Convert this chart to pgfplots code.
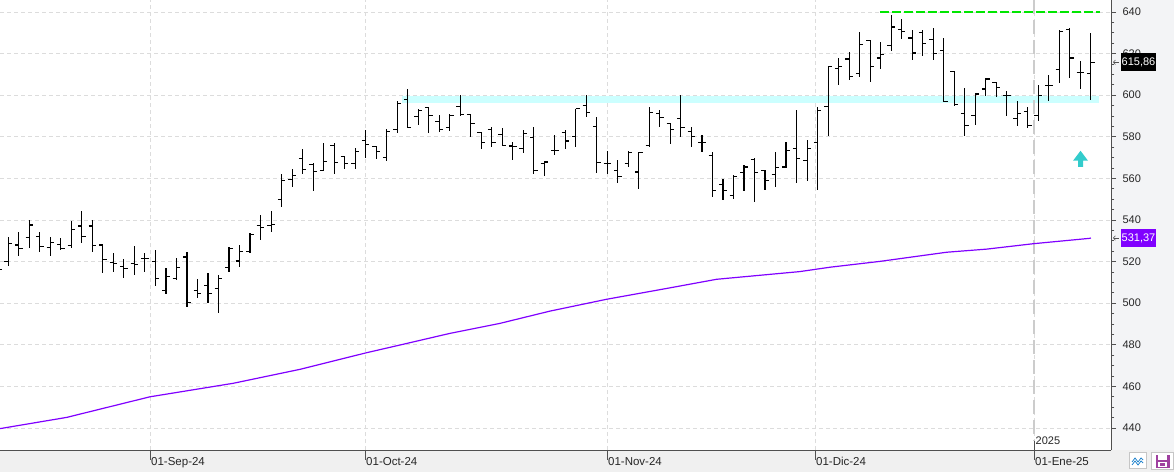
\documentclass[border=0pt]{standalone}
\usepackage{pgfplots}
\pgfplotsset{compat=1.18}
\usepackage{pgfplotstable}
\usepackage{fontspec}
\setmainfont{Liberation Sans}
\usetikzlibrary{arrows.meta}
\definecolor{maPurple}{HTML}{8000FF}
\definecolor{bandCyan}{HTML}{CCFFFF}
\definecolor{arrowCyan}{HTML}{33CCCC}
\definecolor{lineGreen}{HTML}{00E600}
\definecolor{gridGray}{HTML}{DCDCDC}
\definecolor{stripGray}{HTML}{F0F0F0}
\definecolor{sideGray}{HTML}{F3F4F6}
\definecolor{axisGray}{HTML}{505050}

\pgfdeclareplotmark{otick}{\pgfpathmoveto{\pgfqpoint{-3.8pt}{0pt}}\pgfpathlineto{\pgfqpoint{0pt}{0pt}}\pgfusepathqstroke}
\pgfdeclareplotmark{ctick}{\pgfpathmoveto{\pgfqpoint{0pt}{0pt}}\pgfpathlineto{\pgfqpoint{3.8pt}{0pt}}\pgfusepathqstroke}

\pgfplotstableread{
i o h l c
0 516.4 517.0 515.8 516.4
1 520.0 531.7 517.9 528.5
2 528.0 534.0 522.7 526.4
3 531.7 540.0 526.7 537.6
4 532.0 534.0 524.8 527.2
5 526.8 531.7 522.7 529.3
6 528.3 531.2 525.6 526.4
7 527.7 539.5 526.7 535.5
8 537.1 544.3 528.8 532.0
9 537.1 540.0 524.8 527.7
10 528.0 528.5 514.7 521.1
11 519.5 524.3 515.2 519.2
12 517.6 521.3 512.3 516.8
13 519.2 527.5 513.6 518.4
14 521.4 524.0 515.2 521.7
15 520.0 525.6 508.3 512.0
16 506.3 517.1 504.3 512.8
17 512.0 521.6 511.2 517.1
18 522.2 524.8 498.3 500.4
19 506.3 511.6 502.3 504.7
20 508.3 514.4 499.9 504.7
21 507.1 513.6 495.4 512.0
22 517.2 527.2 515.2 526.4
23 520.3 528.0 517.2 524.8
24 524.8 533.8 524.2 533.2
25 537.2 542.3 530.6 536.4
26 537.5 544.2 534.0 537.8
27 550.0 562.0 546.3 559.1
28 559.6 564.4 555.9 561.2
29 569.6 574.0 562.3 564.3
30 566.7 567.6 554.0 563.5
31 563.9 576.8 563.9 568.3
32 575.8 577.2 562.3 567.6
33 570.4 570.8 564.3 567.1
34 567.1 574.8 564.7 572.8
35 578.4 583.2 570.0 576.4
36 575.2 575.6 569.1 572.8
37 570.0 583.7 568.4 582.7
38 583.5 597.1 581.6 596.0
39 597.9 602.9 584.0 584.5
40 589.9 593.6 585.9 592.8
41 593.9 594.4 581.6 590.4
42 587.5 590.4 582.4 583.5
43 584.5 591.2 582.7 590.1
44 594.7 600.0 589.9 590.9
45 590.7 590.7 580.0 586.4
46 581.9 582.4 573.9 577.1
47 583.5 584.8 575.2 577.1
48 581.3 584.0 575.5 576.0
49 575.6 577.6 568.8 575.2
50 574.4 583.5 572.0 581.6
51 579.6 584.8 562.3 563.9
52 567.1 568.4 561.2 567.9
53 573.2 581.1 571.2 573.2
54 582.0 583.5 573.9 578.0
55 580.3 593.6 575.2 593.6
56 595.2 600.3 589.3 591.7
57 584.8 589.6 562.8 567.5
58 567.1 573.2 562.0 567.1
59 563.9 568.8 558.0 561.1
60 567.1 573.2 565.5 572.3
61 563.1 572.8 555.1 572.3
62 576.0 594.4 575.2 591.7
63 591.2 593.1 584.5 589.3
64 586.4 586.7 576.4 583.5
65 588.8 600.0 580.0 584.5
66 582.7 584.8 575.2 580.3
67 577.1 580.8 572.8 577.2
68 570.8 572.8 551.1 554.3
69 557.0 559.9 549.8 554.3
70 551.9 561.5 550.3 561.1
71 562.8 566.3 554.0 565.5
72 569.1 570.0 548.7 562.8
73 563.9 563.9 554.6 559.1
74 561.9 572.8 555.9 565.2
75 565.5 577.6 565.2 573.2
76 574.4 593.1 557.9 569.6
77 568.4 578.4 558.8 574.4
78 577.2 594.4 554.3 592.5
79 594.6 614.2 580.2 613.9
80 612.8 617.9 605.1 613.9
81 617.4 620.6 607.1 609.1
82 610.4 630.2 608.6 624.3
83 626.4 626.7 606.2 613.6
84 617.9 625.6 612.8 619.5
85 623.8 638.7 621.4 632.8
86 631.8 636.6 627.2 630.7
87 627.5 631.5 616.8 620.3
88 630.2 631.2 618.7 624.8
89 626.7 632.3 616.8 620.0
90 621.4 627.5 596.7 597.1
91 611.5 611.5 595.1 595.4
92 591.1 603.5 580.5 585.4
93 590.2 601.1 585.8 600.6
94 603.0 608.3 599.5 607.8
95 606.2 606.3 599.1 603.5
96 599.9 602.2 589.8 599.9
97 589.0 597.4 585.4 591.4
98 592.2 594.3 584.2 585.5
99 590.2 605.1 587.4 599.8
100 604.7 609.9 597.1 604.7
101 612.3 631.5 605.9 630.7
102 631.8 632.3 608.3 617.9
103 611.0 616.6 603.0 611.0
104 610.4 629.9 597.9 615.86
}\ohlc

\pgfplotstableread{
x ma
0.21 439.7
6.56 445.1
14.48 455.0
22.41 461.5
28.75 468.2
31.92 472.2
35.10 476.2
38.27 479.9
43.03 485.5
47.78 490.3
52.54 496.2
57.94 501.9
63.65 507.1
68.40 511.5
76.32 515.2
79.18 517.3
83.93 520.1
90.28 524.5
94.09 526.0
98.53 528.6
103.92 531.2
104.00 531.37
}\ma

\begin{document}
\begin{tikzpicture}
\fill[stripGray] (0pt,-22pt) rectangle (1174pt,0pt);
\fill[sideGray] (1111pt,0pt) rectangle (1174pt,450pt);
\begin{axis}[
  width=1111pt, height=450pt, scale only axis,
  xmin=0.2103, xmax=105.92, ymin=429.42, ymax=645.77,
  axis x line*=bottom, axis y line*=right,
  axis line style={draw=axisGray, line width=0.8pt, -},
  clip=false,
  ytick={440,460,...,640},
  minor y tick num=3,
  tick align=outside,
  major tick length=5pt, minor tick length=3.3pt,
  tick style={axisGray, line width=0.7pt},
  /pgf/number format/assume math mode=true,
  ticklabel style={text=black!85},
  yticklabel style={anchor=west, inner sep=0pt, xshift=6.3pt, font=\fontsize{11}{13}\selectfont},
  xtick={14.48,34.94,57.96,77.75,98.59},
  xticklabels={01-Sep-24,01-Oct-24,01-Nov-24,01-Dic-24,01-Ene-25},
  xticklabel style={anchor=north west, inner sep=0pt, xshift=1pt, yshift=-2pt, font=\fontsize{11.5}{13}\selectfont},
  xtick style={draw=none},
  xmajorgrids, ymajorgrids,
  major grid style={gridGray, dash pattern=on 4pt off 3pt, line width=0.8pt},
]
% support band
\addplot[fill=bandCyan, draw=none] coordinates {(38.5,596.2) (104.8,596.2) (104.8,599.5) (38.5,599.5)};
% 2025 separator
\draw[gray!40, line width=1.3pt, dash pattern=on 14pt off 6pt] (axis cs:98.59,645.77) -- (axis cs:98.59,433.75);
% green resistance
\addplot[lineGreen, line width=2.6pt, dash pattern=on 9pt off 3pt] coordinates {(83.93,640) (104.86,640)};
% moving average
\addplot[maPurple, line width=1.2pt] table[x=x, y=ma] {\ma};
% OHLC bars
\addplot[black, only marks, mark=ctick, mark options={line width=1.1pt},
  error bars/.cd, y dir=both, y explicit, error mark=none,
  error bar style={black, line width=1.1pt}]
  table[x=i, y=c, y error plus expr=\thisrow{h}-\thisrow{c}, y error minus expr=\thisrow{c}-\thisrow{l}] {\ohlc};
\addplot[black, only marks, mark=otick, mark options={line width=1.1pt}] table[x=i, y=o] {\ohlc};
% arrow
\addplot[fill=arrowCyan, draw=none] coordinates {(102.31,568.5) (103.02,573.3) (103.73,568.5) (103.26,568.5) (103.26,565.6) (102.78,565.6) (102.78,568.5)};
% x ticks
\draw[axisGray, line width=0.9pt] (axis cs:14.48,429.42) -- ++(0pt,-10pt);
\draw[axisGray, line width=0.9pt] (axis cs:34.94,429.42) -- ++(0pt,-10pt);
\draw[axisGray, line width=0.9pt] (axis cs:57.96,429.42) -- ++(0pt,-10pt);
\draw[axisGray, line width=0.9pt] (axis cs:77.75,429.42) -- ++(0pt,-10pt);
\draw[axisGray, line width=0.9pt] (axis cs:98.59,433.75) -- (axis cs:98.59,429.42) -- ++(0pt,-10pt);
\node[anchor=west, inner sep=0pt, xshift=1.5pt, font=\fontsize{11}{13}\selectfont, text=black!85] at (axis cs:98.59,433.75) {2025};
% value boxes
\node[fill=black, text=white, font=\fontsize{11}{13}\selectfont, inner xsep=1pt, minimum height=18.5pt, anchor=west, xshift=9.5pt] at (axis cs:105.92,615.86) {615,86};
\node[fill=maPurple, text=white, font=\fontsize{11}{13}\selectfont, inner xsep=1pt, minimum height=18.5pt, anchor=west, xshift=9.5pt] at (axis cs:105.92,531.37) {531,37};
\draw[axisGray, line width=0.6pt, {Straight Barb[length=2pt,width=4.5pt]}-] ([xshift=2pt]axis cs:105.92,615.86) -- ++(6pt,0pt);
\draw[axisGray, line width=0.6pt, {Straight Barb[length=2pt,width=4.5pt]}-] ([xshift=2pt]axis cs:105.92,531.37) -- ++(6pt,0pt);
\end{axis}
% icons bottom right
\draw[gray!45, fill=white, line width=0.6pt] (1129pt,-2.5pt) rectangle (1146pt,-18.5pt);
\draw[cyan!60!blue, line width=0.7pt] (1132pt,-12pt) -- (1135pt,-8pt) -- (1138pt,-12pt) -- (1141pt,-8pt) -- (1143pt,-10pt);
\draw[cyan!60!blue, line width=0.7pt] (1132pt,-15pt) -- (1135pt,-11pt) -- (1138pt,-15pt) -- (1141pt,-11pt) -- (1143pt,-13pt);
\draw[gray!45, fill=white, line width=0.6pt] (1151.5pt,-2.5pt) rectangle (1173.5pt,-19.5pt);
\fill[violet!75!white] (1155.5pt,-4.5pt) rectangle (1169.5pt,-17.5pt);
\fill[white] (1158pt,-5pt) rectangle (1167pt,-9.5pt);
\fill[white] (1158pt,-12pt) rectangle (1167pt,-17pt);
\fill[violet!75!white] (1160pt,-13pt) rectangle (1165pt,-16pt);
\pgfresetboundingbox
\useasboundingbox (0pt,-22pt) rectangle (1174pt,450pt);
\end{tikzpicture}
\end{document}
